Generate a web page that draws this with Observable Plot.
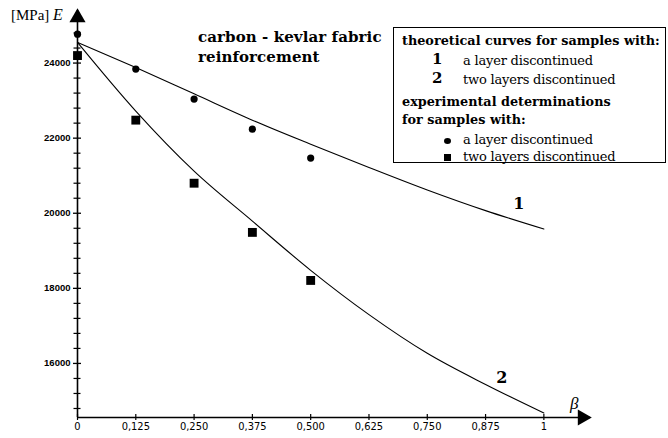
<!DOCTYPE html>
<html>
<head>
<meta charset="utf-8">
<script src="https://cdn.jsdelivr.net/npm/d3@7"></script>
<script src="https://cdn.jsdelivr.net/npm/@observablehq/plot@0.6"></script>
<style>
  html, body { margin: 0; padding: 0; background: #fff; }
  #wrap { position: relative; width: 668px; height: 438px; overflow: hidden; }
  #wrap svg { position: absolute; left: 0; top: 0; }
  .ann { position: absolute; white-space: nowrap; color: #000; font-family: "DejaVu Serif", serif; }
  .title { left: 198px; top: 27px; font-size: 15px; font-weight: bold; line-height: 20px; letter-spacing: 0.1px; }
  .unit { left: 11px; top: 6px; font-size: 15px; font-family: "Liberation Serif", serif; }
  .beta { left: 570px; top: 394px; font-size: 17px; font-style: italic; font-family: "Liberation Serif", serif; }
  #legend { position: absolute; left: 393px; top: 27px; width: 273px; height: 136px; border: 1.3px solid #000; box-sizing: border-box; }
  #legend .h { position: absolute; left: 8px; font-size: 12.8px; font-weight: bold; letter-spacing: 0px; }
  #legend .num { position: absolute; left: 38px; font-size: 15px; font-weight: bold; }
  #legend .t { position: absolute; left: 69px; font-size: 13px; letter-spacing: -0.2px; }
</style>
</head>
<body>
<div id="wrap"></div>
<script>
// ---- data ----
const betaTicks = [0, 0.125, 0.25, 0.375, 0.5, 0.625, 0.75, 0.875, 1];
const betaTickLabels = ["0", "0,125", "0,250", "0,375", "0,500", "0,625", "0,750", "0,875", "1"];
const eMajorTicks = [16000, 18000, 20000, 22000, 24000];
const eMinorTicks = [14800, 15200, 15600, 16400, 16800, 17200, 17600, 18400, 18800, 19200, 19600,
                     20400, 20800, 21200, 21600, 22400, 22800, 23200, 23600, 24400, 24800];

// theoretical curves (beta, E)
const curveBeta = [0, 0.125, 0.25, 0.375, 0.5, 0.625, 0.75, 0.875, 1];
const curve1E = [24550, 23880, 23180, 22480, 21840, 21220, 20620, 20070, 19580];
const curve2E = [24550, 22720, 21120, 19790, 18480, 17300, 16270, 15440, 14680];

// experimental determinations
const expBeta = [0, 0.125, 0.25, 0.375, 0.5];
const exp1E = [24770, 23840, 23040, 22240, 21470];   // a layer discontinued (circles)
const exp2E = [24200, 22480, 20800, 19490, 18210];   // two layers discontinued (squares)

const yMin = 14560, yMax = 25400, xMax = 1.1;

// ---- build tables ----
const curves = [
  ...curveBeta.map((b, i) => ({beta: b, E: curve1E[i], curve: "1"})),
  ...curveBeta.map((b, i) => ({beta: b, E: curve2E[i], curve: "2"}))
];
const exp1 = expBeta.map((b, i) => ({beta: b, E: exp1E[i]}));
const exp2 = expBeta.map((b, i) => ({beta: b, E: exp2E[i]}));
const end1 = [{beta: curveBeta[curveBeta.length - 1], E: curve1E[curve1E.length - 1], label: "1"}];
const end2 = [{beta: curveBeta[curveBeta.length - 1], E: curve2E[curve2E.length - 1], label: "2"}];

const labelStyle = {x: "beta", y: "E", text: "label", fontSize: 16, fontWeight: "bold", fontFamily: "DejaVu Serif", fill: "#000"};

const chart = Plot.plot({
  width: 668,
  height: 438,
  marginLeft: 77,
  marginRight: 78,
  marginTop: 10,
  marginBottom: 21,
  style: {background: "transparent", color: "#000"},
  x: {domain: [0, xMax], axis: null},
  y: {domain: [yMin, yMax], axis: null},
  marks: [
    // axes lines
    Plot.ruleY([yMin], {stroke: "#000", strokeWidth: 1.6}),
    Plot.ruleX([0], {stroke: "#000", strokeWidth: 1.6}),
    // arrow heads
    Plot.dot([{x: 0, y: yMax}], {x: "x", y: "y", symbol: "triangle", r: 6, fill: "#000", stroke: null, dy: 7}),
    Plot.dot([{x: xMax, y: yMin}], {x: "x", y: "y", symbol: "triangle", r: 6, fill: "#000", stroke: null, dx: -8, rotate: 90}),
    // y ticks (crossing)
    Plot.ruleY(eMajorTicks, {y: d => d, x1: 0, x2: 0, insetLeft: -4, insetRight: -4, stroke: "#000", strokeWidth: 1.3}),
    Plot.ruleY(eMinorTicks, {y: d => d, x1: 0, x2: 0, insetLeft: -3.5, insetRight: -3.5, stroke: "#000", strokeWidth: 1.2}),
    // x ticks (crossing)
    Plot.ruleX(betaTicks, {x: d => d, y1: yMin, y2: yMin, insetTop: -3, insetBottom: -3, stroke: "#000", strokeWidth: 1.2}),
    // tick labels
    Plot.axisY({ticks: eMajorTicks, tickSize: 0, tickPadding: 7, tickFormat: d => String(d),
                fontSize: 9.5, fontWeight: "bold", fontFamily: "Liberation Sans", label: null}),
    Plot.axisX({ticks: betaTicks, tickSize: 0, tickPadding: 5, tickFormat: d => betaTickLabels[betaTicks.indexOf(d)],
                fontSize: 11, fontFamily: "DejaVu Sans Condensed", label: null}),
    // theoretical curves
    Plot.line(curves, {x: "beta", y: "E", z: "curve", stroke: "#000", strokeWidth: 1.1, curve: "monotone-x"}),
    Plot.text(end1, {...labelStyle, dx: -25, dy: -25}),
    Plot.text(end2, {...labelStyle, dx: -42, dy: -35}),
    // experimental points
    Plot.dot(exp1, {x: "beta", y: "E", r: 3.6, fill: "#000", stroke: null}),
    Plot.dot(exp2, {x: "beta", y: "E", symbol: "square", r: 5, fill: "#000", stroke: null})
  ]
});

const wrap = document.getElementById("wrap");
wrap.appendChild(chart);
wrap.insertAdjacentHTML("beforeend", `
  <div class="ann unit">[MPa] <i style="font-size:16px">E</i></div>
  <div class="ann title">carbon - kevlar fabric<br>reinforcement</div>
  <div class="ann beta">β</div>
  <div id="legend" class="ann">
    <div class="h" style="top:5px">theoretical curves for samples with:</div>
    <div class="num" style="top:22px">1</div><div class="t" style="top:25px">a layer discontinued</div>
    <div class="num" style="top:41px">2</div><div class="t" style="top:44px">two layers discontinued</div>
    <div class="h" style="top:66px">experimental determinations</div>
    <div class="h" style="top:84px">for samples with:</div>
    <div style="position:absolute; left:50px; top:110px; width:7px; height:6px; border-radius:50%; background:#000"></div>
    <div class="t" style="top:104px">a layer discontinued</div>
    <div style="position:absolute; left:50px; top:126px; width:7px; height:7px; background:#000"></div>
    <div class="t" style="top:121px">two layers discontinued</div>
  </div>
`);
</script>
</body>
</html>
